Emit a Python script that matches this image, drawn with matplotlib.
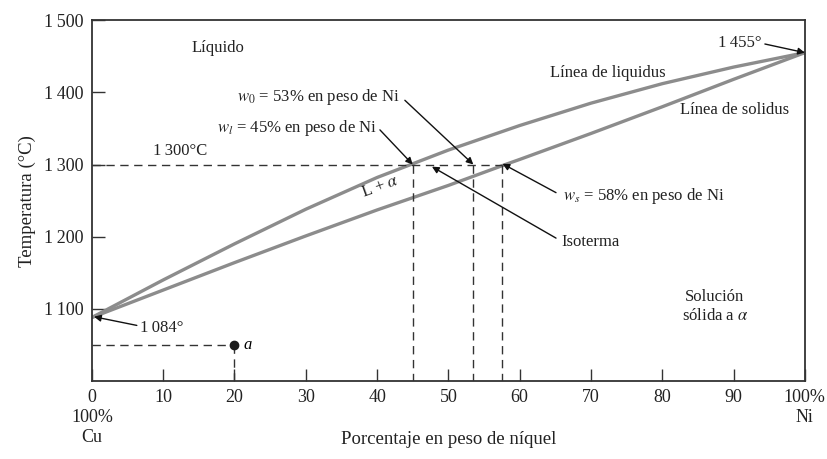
import matplotlib
matplotlib.use("Agg")
import matplotlib.pyplot as plt

plt.rcParams['font.family'] = ['Liberation Serif', 'DejaVu Serif']
plt.rcParams['mathtext.fontset'] = 'stix'

# composition (wt% Ni) and temperatures (°C)
ni_pct = [0, 10, 20, 30, 40, 45, 50, 60, 70, 80, 90, 100]
liquidus = [1088, 1140, 1190, 1238, 1282, 1301, 1320, 1354, 1385, 1412, 1435, 1455]
solidus_pct = [0, 10, 20, 30, 40, 50, 58, 60, 70, 80, 90, 100]
solidus = [1088, 1126, 1164, 1201, 1237, 1271, 1300, 1307, 1343, 1380, 1418, 1455]

t_iso = 1300
w_l, w_0, w_s = 45, 53.5, 57.5
point_a = (20, 1050)

x_ticks = [0, 10, 20, 30, 40, 50, 60, 70, 80, 90, 100]
x_labels = ['0\n100%\nCu', '10', '20', '30', '40', '50', '60', '70', '80', '90', '100%\nNi']
y_ticks = [1100, 1200, 1300, 1400, 1500]
y_labels = ['1\u2009100', '1\u2009200', '1\u2009300', '1\u2009400', '1\u2009500']

fig = plt.figure(figsize=(8.28, 4.59), dpi=100)
ax = fig.add_axes([0.111, 0.170, 0.861, 0.786])

curve_col = '#8c8c8c'
ax.plot(ni_pct, liquidus, color=curve_col, lw=2.4, solid_capstyle='round', solid_joinstyle='round')
ax.plot(solidus_pct, solidus, color=curve_col, lw=2.4, solid_capstyle='round', solid_joinstyle='round')

dash = dict(color='#333333', lw=1.0, dashes=(6, 4))
ax.plot([0, w_s], [t_iso, t_iso], **dash)
for w in (w_l, w_0, w_s):
    ax.plot([w, w], [t_iso, 1000], **dash)
ax.plot([0, point_a[0]], [point_a[1], point_a[1]], **dash)
ax.plot([point_a[0], point_a[0]], [point_a[1], 1000], **dash)
ax.plot(*point_a, 'o', color='#1a1a1a', ms=6, zorder=5)
ax.text(point_a[0] + 1.2, point_a[1], 'a', style='italic', fontsize=12, va='center')

ax.set_xlim(0, 100)
ax.set_ylim(1000, 1500)
ax.set_xticks(x_ticks)
ax.set_xticklabels(x_labels, fontsize=13)
ax.set_yticks(y_ticks)
ax.set_yticklabels(y_labels, fontsize=13)
ax.tick_params(direction='in', length=9, width=1, colors='#333333', labelcolor='#222222', pad=6)
for s in ax.spines.values():
    s.set_color('#333333')
    s.set_linewidth(1.3)
ax.set_xlabel('Porcentaje en peso de níquel', fontsize=13.5, color='#222222')
ax.set_ylabel('Temperatura (°C)', fontsize=13.5, labelpad=6, color='#222222')
ax.xaxis.set_label_coords(0.5, -0.14)

txt = dict(fontsize=12, color='#222222')
ax.text(17.7, 1461, 'Líquido', ha='center', va='center', **txt)
ax.text(72.4, 1427, 'Línea de liquidus', ha='center', va='center', **txt)
ax.text(90.2, 1376, 'Línea de solidus', ha='center', va='center', **txt)
ax.text(12.4, 1319, '1\u2009300°C', ha='center', va='center', **txt)
ax.text(40.4, 1269, 'L + $\\alpha$', ha='center', va='center', rotation=20, **txt)
ax.text(87.4, 1103, 'Solución\nsólida a $\\alpha$', ha='center', va='center',
        linespacing=1.3, **txt)

ax.text(94.0, 1468, '1\u2009455°', ha='right', va='center', **txt)
ax.text(6.7, 1073, '1\u2009084°', ha='left', va='center', **txt)
ax.text(43.2, 1393, '$w_0$ = 53% en peso de Ni', ha='right', va='center', **txt)
ax.text(40.0, 1351, '$w_l$ = 45% en peso de Ni', ha='right', va='center', **txt)
ax.text(66.1, 1257, '$w_s$ = 58% en peso de Ni', ha='left', va='center', **txt)
ax.text(65.9, 1193, 'Isoterma', ha='left', va='center', **txt)

arrow = dict(arrowstyle='-|>', color='#111111', lw=1.0, mutation_scale=10,
             shrinkA=0, shrinkB=0)
arrows = [
    ((100, 1455), (94.4, 1467)),
    ((0.3, 1089), (6.3, 1077)),
    ((w_0, t_iso), (43.9, 1389)),
    ((w_l, t_iso), (40.4, 1348)),
    ((w_s + 0.1, t_iso + 1), (65.1, 1261)),
    ((47.7, 1297), (65.1, 1198)),
]
for head, tail in arrows:
    ax.annotate('', xy=head, xytext=tail, arrowprops=arrow, annotation_clip=False)

fig.savefig('out.png', dpi=100)
